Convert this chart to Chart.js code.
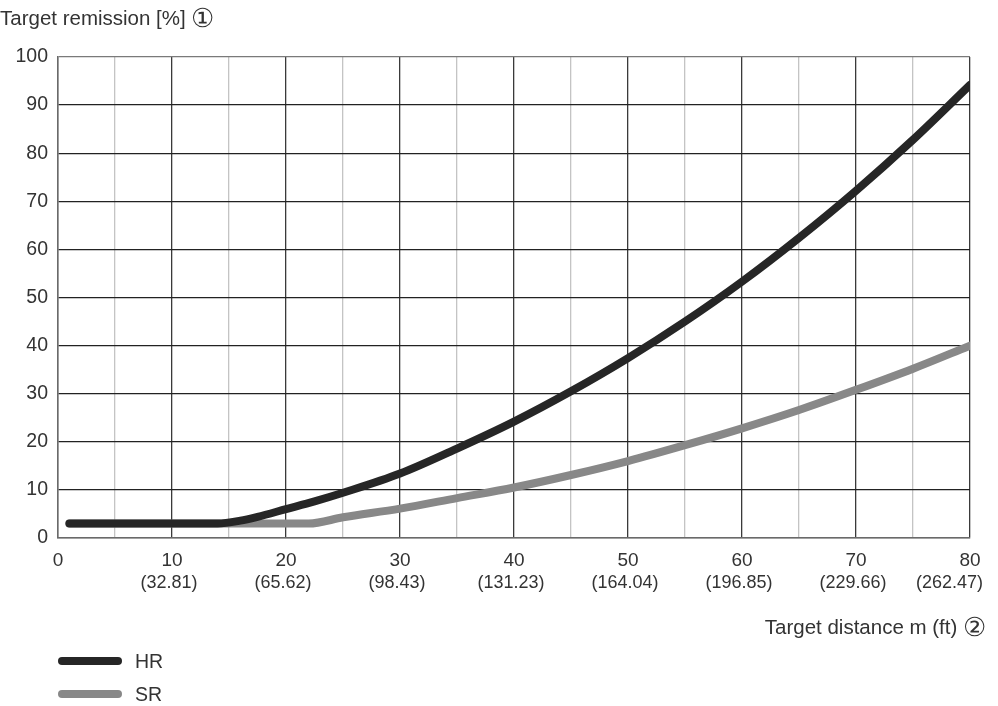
<!DOCTYPE html>
<html>
<head>
<meta charset="utf-8">
<script src="https://cdn.jsdelivr.net/npm/chart.js@4"></script>
<style>
  body { margin: 0; background: #fff; font-family: "Liberation Sans", Arial, sans-serif; color: #333; }
  #wrap { position: relative; width: 998px; height: 706px; }
  canvas { position: absolute; left: 0; top: 0; }
  .txt { position: absolute; font-size: 20.5px; line-height: 24px; color: #333; white-space: nowrap; }
  .circ { font-size: 26px; vertical-align: -2px; }
  .leg { position: absolute; left: 58px; width: 64px; height: 8px; border-radius: 4px; }
  .legtxt { font-size: 19.5px; }
</style>
</head>
<body>
<div id="wrap">
  <canvas id="c" width="998" height="706"></canvas>
  <div class="txt" style="left:0;top:6px">Target remission [%] <span class="circ">①</span></div>
  <div class="txt" style="right:12px;top:615px">Target distance m (ft) <span class="circ">②</span></div>
  <div id="legend"></div>
</div>
<script>
// values
const hrX = [1, 14, 16, 17.5, 20, 22.5, 25, 30, 35, 40, 45, 50, 55, 60, 65, 70, 75, 80];
const hrY = [3, 3, 3.6, 4.4, 6.0, 7.6, 9.4, 13.4, 18.6, 24.2, 30.5, 37.4, 45, 53.3, 62.4, 72.2, 82.8, 94.2];
const srX = [1, 22, 25, 30, 35, 40, 45, 50, 55, 60, 65, 70, 75, 80];
const srY = [3, 3, 4.3, 6.1, 8.3, 10.5, 13.1, 16, 19.3, 22.8, 26.6, 30.8, 35.2, 40];
const metreTicks = [0, 10, 20, 30, 40, 50, 60, 70, 80];
const feetTicks = ["", "(32.81)", "(65.62)", "(98.43)", "(131.23)", "(164.04)", "(196.85)", "(229.66)", "(262.47)"];
const seriesNames = ["HR", "SR"];
const seriesColors = ["#262626", "#888888"];

const toPoints = (xs, ys) => xs.map((x, i) => ({ x, y: ys[i] }));

// feet labels under the metre ticks
const feetPlugin = {
  id: "feet",
  afterDraw(chart) {
    const { ctx, scales: { x }, chartArea } = chart;
    ctx.save();
    ctx.font = "18px 'Liberation Sans', Arial, sans-serif";
    ctx.fillStyle = "#333";
    ctx.textBaseline = "top";
    ctx.textAlign = "center";
    metreTicks.forEach((m, i) => {
      const label = feetTicks[i];
      if (!label) return;
      const w = ctx.measureText(label).width;
      const cx = Math.min(x.getPixelForValue(m) - 3, chart.width - 15 - w / 2);
      ctx.fillText(label, cx, chartArea.bottom + 36);
    });
    ctx.restore();
  }
};

new Chart(document.getElementById("c"), {
  type: "line",
  data: {
    datasets: [
      { label: seriesNames[0], data: toPoints(hrX, hrY), borderColor: seriesColors[0] },
      { label: seriesNames[1], data: toPoints(srX, srY), borderColor: seriesColors[1] }
    ].map((d) => ({
      ...d,
      borderWidth: 8,
      borderCapStyle: "round",
      borderJoinStyle: "round",
      pointRadius: 0,
      fill: false,
      cubicInterpolationMode: "monotone"
    }))
  },
  options: {
    responsive: false,
    animation: false,
    layout: { padding: { top: 57, right: 28, left: 0, bottom: 0 } },
    plugins: { legend: { display: false }, tooltip: { enabled: false } },
    scales: {
      x: {
        type: "linear",
        min: 0,
        max: 80,
        ticks: {
          stepSize: 5,
          autoSkip: false,
          maxRotation: 0,
          padding: 11,
          color: "#333",
          font: { size: 19, family: "'Liberation Sans', Arial, sans-serif" },
          callback: (v) => (v % 10 === 0 ? String(v) : "")
        },
        grid: {
          drawTicks: false,
          lineWidth: 1.3,
          color: (c) => (c.tick.value === 0 ? "#6a6a6a" : c.tick.value % 10 === 0 ? "#3a3a3a" : "#c4c4c4")
        },
        border: { color: "#6a6a6a", width: 1.5 },
        afterFit: (s) => { s.height = 706 - 538; }
      },
      y: {
        min: 0,
        max: 100,
        ticks: {
          stepSize: 10,
          padding: 10,
          color: "#333",
          font: { size: 19.5, family: "'Liberation Sans', Arial, sans-serif" }
        },
        grid: {
          drawTicks: false,
          lineWidth: 1.3,
          color: (c) => (c.tick.value === 100 ? "#7a7a7a" : c.tick.value === 0 ? "#6a6a6a" : "#222")
        },
        border: { color: "#6a6a6a", width: 1.5 },
        afterFit: (s) => { s.width = 58; }
      }
    }
  },
  plugins: [feetPlugin]
});

// legend below the axis title
document.getElementById("legend").innerHTML = seriesNames.map((name, i) => `
  <div class="leg" style="top:${657 + i * 33}px;background:${seriesColors[i]}"></div>
  <div class="txt legtxt" style="left:135px;top:${649 + i * 33}px">${name}</div>
`).join("");
</script>
</body>
</html>
